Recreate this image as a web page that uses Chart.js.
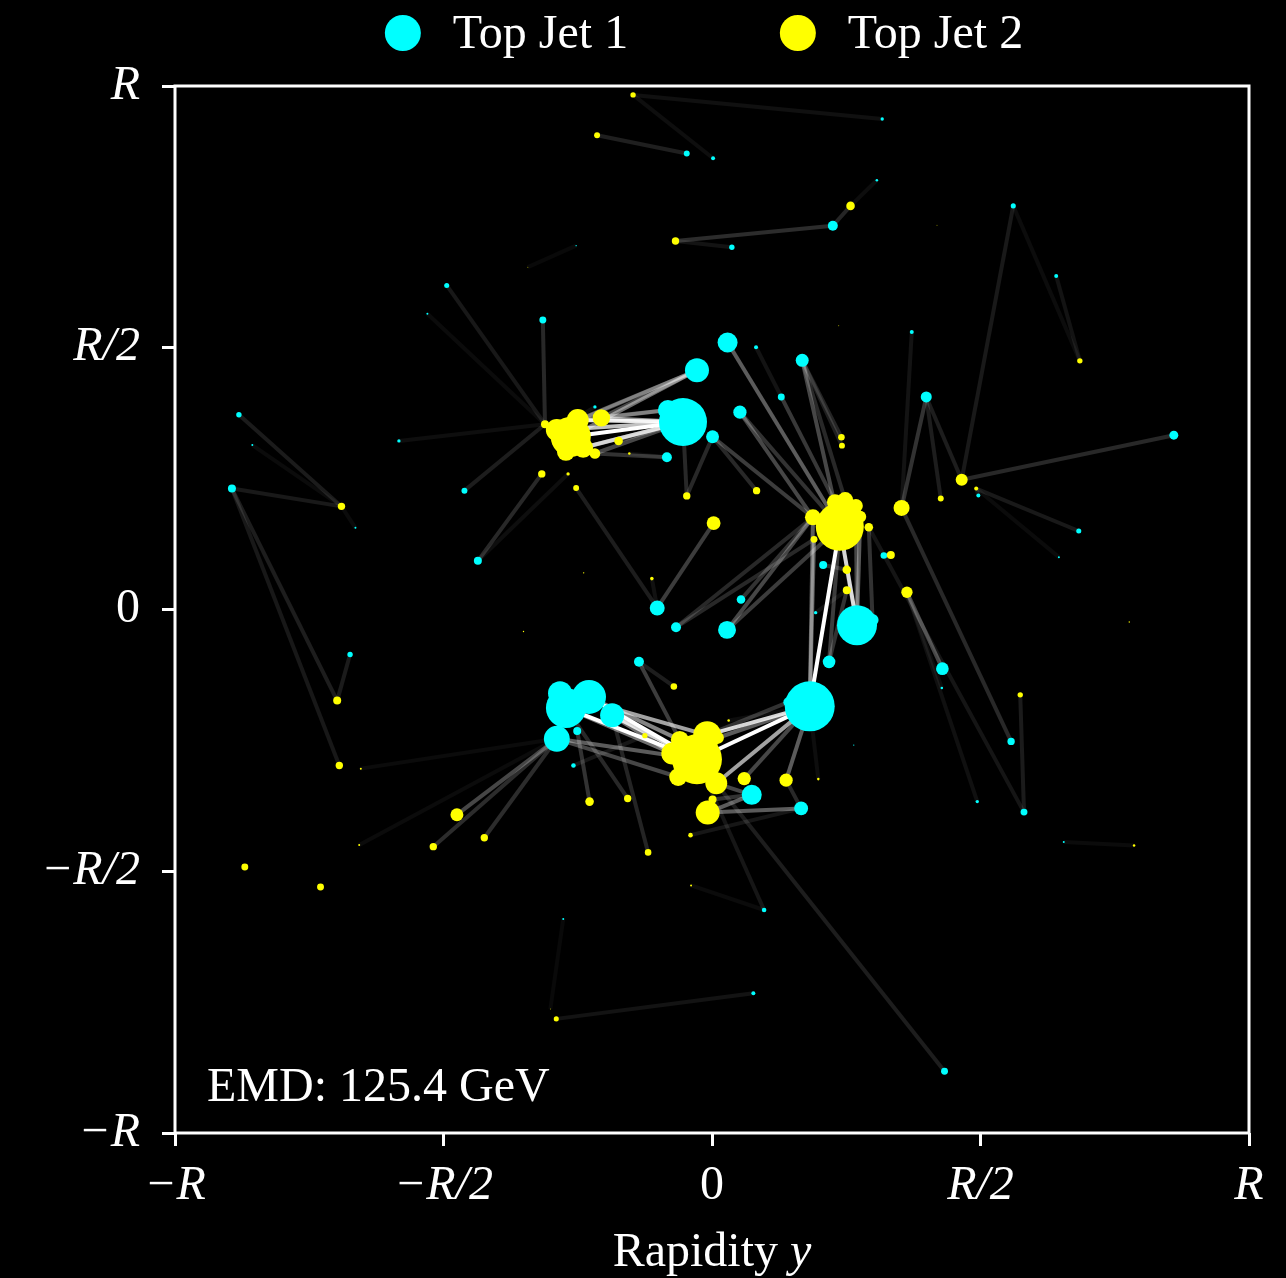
<!DOCTYPE html>
<html>
<head>
<meta charset="utf-8">
<title>Top jet EMD</title>
<script src="https://cdn.jsdelivr.net/npm/chart.js@4.4.1/dist/chart.umd.min.js"></script>
<style>
  html, body { margin: 0; padding: 0; background: #000; }
  canvas { display: block; }
</style>
</head>
<body>
<canvas id="emdChart" width="1286" height="1278"></canvas>
<script>
// Particles of each jet: [rapidity / R, azimuth / R, pT in GeV]
const jet1 = [
    [-0.054, 0.358, 144], [-0.082, 0.381, 25], [-0.028, 0.457, 36], [0.029, 0.510, 25], [0.052, 0.377, 11],
    [0.001, 0.330, 10.5], [-0.084, 0.291, 6.2], [0.168, 0.476, 10.5], [0.129, 0.406, 3], [0.082, 0.501, 1],
    [-0.218, 0.387, 0.7], [-0.315, 0.553, 3], [-0.494, 0.619, 1.6], [-0.530, 0.565, 0.25], [-0.583, 0.322, 0.7],
    [-0.461, 0.227, 2.2], [-0.436, 0.093, 4], [-0.881, 0.372, 1.8], [-0.856, 0.314, 0.25], [-0.894, 0.231, 4],
    [-0.664, 0.156, 0.25], [-0.674, -0.086, 1.8], [-0.253, 0.695, 0.12], [-0.047, 0.871, 2.2], [0.002, 0.862, 1],
    [0.317, 0.937, 0.7], [0.307, 0.820, 0.4], [0.225, 0.733, 6.2], [0.037, 0.692, 1.8], [0.561, 0.771, 1.6],
    [0.641, 0.637, 1], [0.372, 0.530, 1], [0.399, 0.406, 7.6], [0.860, 0.333, 5], [0.496, 0.218, 1],
    [0.683, 0.150, 1.6], [0.646, 0.100, 0.25], [0.320, 0.103, 2.7], [0.207, 0.085, 4], [0.193, -0.006, 0.7],
    [0.270, -0.030, 100], [0.299, -0.020, 9], [0.218, -0.100, 10], [0.429, -0.113, 10], [0.428, -0.150, 0.4],
    [0.557, -0.252, 3.4], [0.494, -0.367, 0.7], [0.581, -0.387, 3], [0.655, -0.444, 0.25], [0.182, -0.185, 156],
    [0.142, -0.177, 6], [0.264, -0.259, 0.1], [0.074, -0.354, 25], [0.166, -0.380, 12], [0.054, 0.019, 4.6],
    [0.028, -0.039, 20], [-0.067, -0.034, 6.2], [-0.102, 0.003, 14], [-0.136, -0.100, 6.2], [-0.272, -0.188, 100],
    [-0.229, -0.167, 72], [-0.283, -0.160, 36], [-0.186, -0.202, 36], [-0.289, -0.247, 42], [-0.251, -0.232, 4],
    [-0.258, -0.298, 1.3], [0.097, -0.574, 1.3], [-0.277, -0.591, 0.25], [0.077, -0.733, 1], [0.433, -0.882, 3]
];

const jet2 = [
    [-0.263, 0.330, 100], [-0.250, 0.362, 30], [-0.289, 0.343, 30], [-0.240, 0.309, 25], [-0.272, 0.301, 20],
    [-0.311, 0.354, 4], [-0.206, 0.366, 19], [-0.174, 0.322, 4.6], [-0.218, 0.298, 7], [-0.154, 0.298, 0.4],
    [-0.317, 0.259, 3.4], [-0.268, 0.259, 0.7], [-0.253, 0.232, 2.2], [-0.047, 0.217, 3.4], [0.083, 0.227, 3.4],
    [0.003, 0.165, 12], [0.238, 0.158, 144], [0.188, 0.176, 16], [0.229, 0.205, 16], [0.248, 0.209, 16],
    [0.268, 0.198, 12], [0.276, 0.177, 9], [0.292, 0.157, 4.6], [0.190, 0.134, 3], [0.353, 0.194, 16],
    [0.333, 0.104, 4], [0.251, 0.076, 4.6], [0.251, 0.037, 4], [0.363, 0.033, 8], [0.241, 0.329, 2.7],
    [0.242, 0.313, 2.2], [0.236, 0.542, 0.06], [0.465, 0.248, 9], [0.492, 0.231, 1], [0.426, 0.212, 2.2],
    [0.685, 0.475, 1.8], [0.258, 0.771, 4.6], [-0.068, 0.704, 3.4], [-0.214, 0.906, 2.2], [-0.147, 0.983, 1.8],
    [-0.343, 0.654, 0.06], [-0.690, 0.197, 3.4], [-0.698, -0.174, 4], [-0.694, -0.298, 3.4], [-0.654, -0.304, 0.25],
    [-0.351, -0.042, 0.12], [-0.239, 0.070, 0.12], [-0.112, 0.059, 0.8], [-0.071, -0.147, 2.7], [-0.125, -0.241, 1.8],
    [0.031, -0.212, 0.4], [-0.028, -0.286, 156], [-0.009, -0.240, 49], [-0.060, -0.249, 20], [-0.063, -0.320, 20],
    [0.008, -0.332, 30], [0.011, -0.245, 9], [-0.074, -0.275, 30], [0.060, -0.323, 11], [0.138, -0.326, 11],
    [0.198, -0.324, 0.4], [0.001, -0.363, 4], [-0.008, -0.388, 36], [-0.228, -0.367, 4.6], [-0.157, -0.361, 3.4],
    [-0.040, -0.431, 1.3], [-0.119, -0.464, 2.7], [-0.475, -0.392, 10.5], [-0.424, -0.436, 3.4], [-0.519, -0.453, 3.4],
    [-0.657, -0.450, 0.25], [-0.870, -0.492, 3], [-0.729, -0.530, 3], [-0.039, -0.527, 0.25], [-0.301, -0.763, 0.06],
    [-0.290, -0.782, 1.6], [0.574, -0.163, 1.8], [0.777, -0.024, 0.12], [0.786, -0.451, 0.4], [0.419, 0.734, 0.04]
];

// EMD transport plan: [jet1 index, jet2 index, flow in GeV]
const flows = [
    [0, 0, 40], [0, 1, 22], [0, 2, 18], [0, 3, 16], [0, 4, 12], [0, 6, 14], [0, 7, 4], [0, 8, 6],
    [1, 1, 8], [1, 6, 5], [2, 0, 10], [2, 1, 8], [2, 2, 5], [2, 6, 6], [6, 8, 4], [6, 9, 0.4],
    [0, 13, 3], [5, 13, 3], [5, 14, 3], [11, 5, 3], [12, 5, 1.5], [13, 5, 0.2], [14, 5, 0.5], [15, 5, 2],
    [16, 10, 3], [16, 11, 0.5], [10, 2, 0.7], [57, 12, 2], [57, 47, 0.8],
    [49, 16, 50], [49, 23, 8], [49, 17, 8], [40, 16, 20], [40, 21, 8], [40, 20, 6], [41, 22, 4], [40, 26, 4],
    [3, 16, 8], [7, 16, 6], [7, 19, 3], [7, 29, 2.7], [7, 30, 2.2], [4, 17, 6], [4, 16, 4], [5, 17, 5],
    [8, 18, 3], [9, 18, 1], [54, 17, 4], [55, 17, 6], [55, 16, 5], [56, 23, 3], [56, 17, 3], [57, 15, 5],
    [38, 26, 3], [39, 27, 0.7], [42, 16, 5], [42, 27, 4], [37, 25, 2.7],
    [32, 24, 4], [32, 34, 2], [32, 32, 2], [31, 24, 1], [29, 32, 1.6], [30, 35, 1], [29, 35, 0.3], [33, 32, 3],
    [34, 33, 1], [35, 33, 1.6], [36, 33, 0.25], [45, 24, 3], [43, 28, 6], [46, 28, 0.7], [44, 28, 0.4],
    [47, 76, 1.8], [47, 22, 1.2], [48, 78, 0.25],
    [59, 51, 40], [60, 51, 30], [62, 51, 20], [61, 52, 15], [60, 53, 12], [62, 57, 10], [63, 51, 8], [63, 54, 6],
    [59, 57, 10], [49, 51, 30], [49, 52, 20], [49, 55, 15], [49, 56, 8], [49, 58, 6], [49, 59, 8], [50, 52, 4],
    [49, 50, 0.4], [49, 60, 0.4], [52, 62, 8], [52, 55, 6], [52, 61, 4], [53, 62, 8], [53, 59, 3], [53, 65, 1.3],
    [58, 53, 5], [58, 48, 2], [63, 67, 6], [63, 69, 3.4], [63, 68, 3.4], [64, 63, 4], [59, 64, 3], [62, 66, 2.7],
    [65, 49, 1.3], [63, 44, 0.25], [63, 70, 0.25], [66, 51, 1.3], [66, 73, 0.25], [69, 51, 2], [68, 75, 1], [67, 74, 0.02],
    [19, 41, 1.6], [17, 41, 1.8], [18, 41, 0.25], [20, 41, 0.25], [19, 42, 2], [19, 43, 1.5], [21, 42, 1.8],
    [23, 38, 2.2], [24, 39, 0.5], [25, 39, 0.7], [27, 37, 3.4], [27, 36, 2.8], [28, 37, 1], [26, 36, 0.4], [22, 40, 0.02]
];

const seriesLabels = ['Top Jet 1', 'Top Jet 2'];
const tickValues = [-1, -0.5, 0, 0.5, 1];
const tickLabels = ['\u2212R', '\u2212R/2', '0', 'R/2', 'R'];
const emdValue = 125.4;

const FONT = "'Liberation Serif', 'DejaVu Serif', serif";
const jetColors = ['#00ffff', '#ffff00'];

// marker area grows with pT, like a matplotlib scatter
function markerRadius(pt) {
    return 2 * Math.sqrt(pt);
}

function flowColor(f) {
    const alpha = Math.min(1, 0.035 + f / 25);
    return 'rgba(255, 255, 255, ' + alpha.toFixed(3) + ')';
}

function toPoints(jet) {
    return jet.map(p => ({ x: p[0], y: p[1], pt: p[2] }));
}

function tickLabel(value) {
    const i = tickValues.indexOf(value);
    return i >= 0 ? tickLabels[i] : '';
}

function tickFont(ctx) {
    const label = ctx.tick ? tickLabel(ctx.tick.value) : '';
    return { family: FONT, size: 48, style: label.indexOf('R') >= 0 ? 'italic' : 'normal' };
}

// Build datasets
const jetDatasets = [jet1, jet2].map((jet, k) => ({
    type: 'scatter',
    label: seriesLabels[k],
    data: toPoints(jet),
    backgroundColor: jetColors[k],
    borderWidth: 0,
    pointRadius: ctx => markerRadius(ctx.raw ? ctx.raw.pt : 1),
    pointHoverRadius: ctx => markerRadius(ctx.raw ? ctx.raw.pt : 1),
    order: k === 0 ? 1 : 0
}));

const flowDatasets = flows.map(([i, j, f]) => ({
    type: 'line',
    label: 'flow',
    data: [{ x: jet1[i][0], y: jet1[i][1] }, { x: jet2[j][0], y: jet2[j][1] }],
    borderColor: flowColor(f),
    borderWidth: 4,
    pointRadius: 0,
    fill: false,
    order: 2
}));

// Black background, frame, legend and annotation text
const decorations = {
    id: 'decorations',
    beforeDraw(chart) {
        const ctx = chart.ctx;
        ctx.save();
        ctx.fillStyle = '#000';
        ctx.fillRect(0, 0, chart.width, chart.height);
        ctx.restore();
    },
    afterDraw(chart) {
        const ctx = chart.ctx;
        const area = chart.chartArea;
        const cx = (area.left + area.right) / 2;
        ctx.save();

        // frame
        ctx.strokeStyle = '#fff';
        ctx.lineWidth = 3;
        ctx.strokeRect(area.left, area.top, area.right - area.left, area.bottom - area.top);

        // legend
        ctx.font = '48px ' + FONT;
        ctx.textBaseline = 'alphabetic';
        ctx.textAlign = 'left';
        seriesLabels.forEach((label, k) => {
            const r = 18;
            const textW = ctx.measureText(label).width;
            const itemW = 2 * r + 32 + textW;
            const left = cx + (k - 0.5) * 395 - itemW / 2 - 8;
            ctx.fillStyle = jetColors[k];
            ctx.beginPath();
            ctx.arc(left + r, 33, r, 0, Math.PI * 2);
            ctx.fill();
            ctx.fillStyle = '#fff';
            ctx.fillText(label, left + 2 * r + 32, 48);
        });

        // EMD value
        ctx.fillStyle = '#fff';
        ctx.fillText('EMD: ' + emdValue.toFixed(1) + ' GeV', area.left + 32, 1101);

        // x axis title with italic y
        const part1 = 'Rapidity ';
        const w1 = ctx.measureText(part1).width;
        ctx.font = 'italic 48px ' + FONT;
        const w2 = ctx.measureText('y').width;
        const start = cx - (w1 + w2) / 2;
        ctx.font = '48px ' + FONT;
        ctx.fillText(part1, start, 1266);
        ctx.font = 'italic 48px ' + FONT;
        ctx.fillText('y', start + w1, 1266);

        ctx.restore();
    }
};

const axisCommon = {
    type: 'linear',
    min: -1,
    max: 1,
    border: { display: false },
    grid: {
        drawOnChartArea: false,
        drawTicks: true,
        tickLength: 13,
        tickWidth: 3,
        tickColor: '#fff',
        color: '#fff'
    }
};

new Chart(document.getElementById('emdChart'), {
    type: 'scatter',
    data: { datasets: jetDatasets.concat(flowDatasets) },
    options: {
        responsive: false,
        animation: false,
        events: [],
        layout: { padding: { top: 86, right: 37, bottom: 0, left: 0 } },
        plugins: {
            legend: { display: false },
            tooltip: { enabled: false }
        },
        scales: {
            x: Object.assign({}, axisCommon, {
                position: 'bottom',
                afterFit: scale => { scale.height = 145; },
                ticks: {
                    stepSize: 0.5,
                    autoSkip: false,
                    maxRotation: 0,
                    color: '#fff',
                    padding: 12,
                    font: tickFont,
                    callback: tickLabel
                }
            }),
            y: Object.assign({}, axisCommon, {
                position: 'left',
                afterFit: scale => { scale.width = 175; },
                ticks: {
                    stepSize: 0.5,
                    autoSkip: false,
                    color: '#fff',
                    padding: 22,
                    font: tickFont,
                    callback: tickLabel
                }
            })
        }
    },
    plugins: [decorations]
});
</script>
</body>
</html>
